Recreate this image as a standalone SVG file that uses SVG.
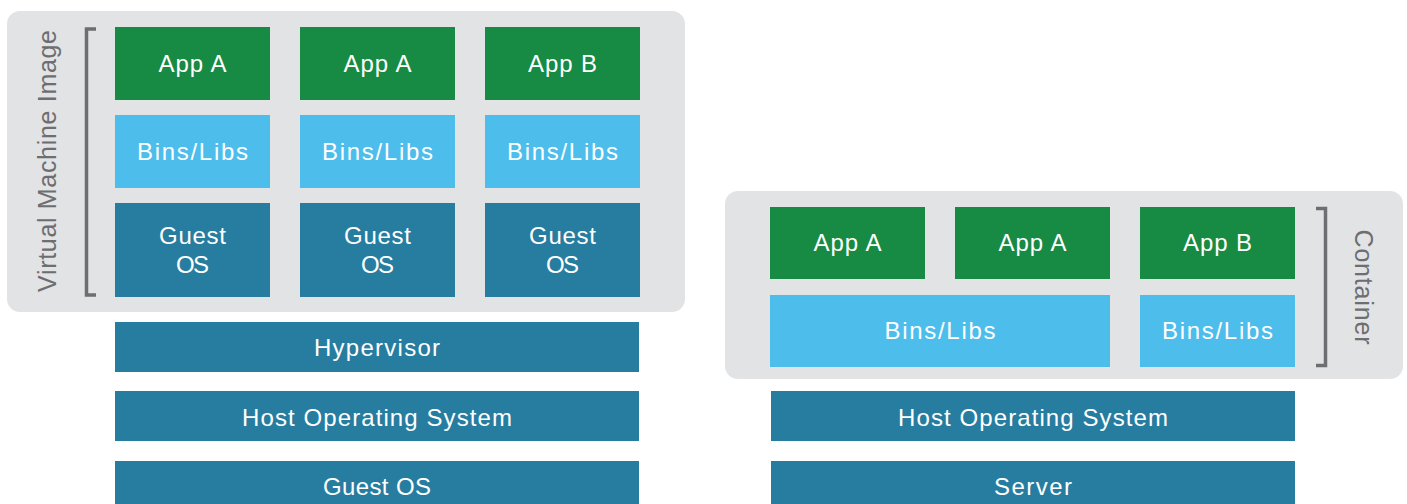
<svg xmlns="http://www.w3.org/2000/svg" width="1407" height="504" viewBox="0 0 1407 504">
<style>
.panel{fill:#e2e3e5}
.app{fill:#178a43}
.lib{fill:#4dbdec}
.os{fill:#277d9f}
.t{font-family:"Liberation Sans",Arial,sans-serif;font-size:24px;fill:#ffffff;text-anchor:middle}
.lbl{font-family:"Liberation Sans",Arial,sans-serif;font-size:25px;fill:#6d6e71;text-anchor:middle}
.br{fill:none;stroke:#6d6e71;stroke-width:3.5}
</style>
<rect width="1407" height="504" fill="#ffffff"/>
<g id="vm-panel">
<rect class="panel" x="7" y="11" width="678" height="301" rx="13"/>
<path class="br" d="M96 29 H86.5 V295 H96"/>
<text class="lbl" transform="translate(56 161) rotate(-90)" textLength="262" lengthAdjust="spacing">Virtual Machine Image</text>
</g>
<g id="vm-app1"><rect class="app" x="115" y="27" width="155" height="73"/><text class="t" x="192.5" y="72" textLength="68" lengthAdjust="spacing">App A</text></g>
<g id="vm-app2"><rect class="app" x="300" y="27" width="155" height="73"/><text class="t" x="377.5" y="72" textLength="68" lengthAdjust="spacing">App A</text></g>
<g id="vm-app3"><rect class="app" x="485" y="27" width="155" height="73"/><text class="t" x="562.5" y="72" textLength="69" lengthAdjust="spacing">App B</text></g>
<g id="vm-lib1"><rect class="lib" x="115" y="115" width="155" height="73"/><text class="t" x="192.5" y="160" textLength="111" lengthAdjust="spacing">Bins/Libs</text></g>
<g id="vm-lib2"><rect class="lib" x="300" y="115" width="155" height="73"/><text class="t" x="377.5" y="160" textLength="111" lengthAdjust="spacing">Bins/Libs</text></g>
<g id="vm-lib3"><rect class="lib" x="485" y="115" width="155" height="73"/><text class="t" x="562.5" y="160" textLength="111" lengthAdjust="spacing">Bins/Libs</text></g>
<g id="vm-os1"><rect class="os" x="115" y="203" width="155" height="94"/><text class="t" x="192.5" y="244" textLength="67" lengthAdjust="spacing">Guest</text><text class="t" x="192.5" y="273" textLength="33" lengthAdjust="spacing">OS</text></g>
<g id="vm-os2"><rect class="os" x="300" y="203" width="155" height="94"/><text class="t" x="377.5" y="244" textLength="67" lengthAdjust="spacing">Guest</text><text class="t" x="377.5" y="273" textLength="33" lengthAdjust="spacing">OS</text></g>
<g id="vm-os3"><rect class="os" x="485" y="203" width="155" height="94"/><text class="t" x="562.5" y="244" textLength="67" lengthAdjust="spacing">Guest</text><text class="t" x="562.5" y="273" textLength="33" lengthAdjust="spacing">OS</text></g>
<g id="hypervisor"><rect class="os" x="115" y="322" width="524" height="50"/><text class="t" x="377" y="356" textLength="126" lengthAdjust="spacing">Hypervisor</text></g>
<g id="vm-host"><rect class="os" x="115" y="391" width="524" height="50"/><text class="t" x="377" y="426" textLength="270" lengthAdjust="spacing">Host Operating System</text></g>
<g id="vm-guest"><rect class="os" x="115" y="461" width="524" height="50"/><text class="t" x="377" y="495" textLength="108" lengthAdjust="spacing">Guest OS</text></g>

<g id="ct-panel">
<rect class="panel" x="725" y="191" width="678" height="188" rx="13"/>
<path class="br" d="M1316 208.5 H1325.5 V365.5 H1316"/>
<text class="lbl" transform="translate(1355 287) rotate(90)" textLength="115" lengthAdjust="spacing">Container</text>
</g>
<g id="ct-app1"><rect class="app" x="770" y="207" width="155" height="72"/><text class="t" x="847.5" y="251" textLength="68" lengthAdjust="spacing">App A</text></g>
<g id="ct-app2"><rect class="app" x="955" y="207" width="155" height="72"/><text class="t" x="1032.5" y="251" textLength="68" lengthAdjust="spacing">App A</text></g>
<g id="ct-app3"><rect class="app" x="1140" y="207" width="155" height="72"/><text class="t" x="1217.5" y="251" textLength="69" lengthAdjust="spacing">App B</text></g>
<g id="ct-lib1"><rect class="lib" x="770" y="295" width="340" height="72"/><text class="t" x="940" y="339" textLength="111" lengthAdjust="spacing">Bins/Libs</text></g>
<g id="ct-lib2"><rect class="lib" x="1140" y="295" width="155" height="72"/><text class="t" x="1217.5" y="339" textLength="111" lengthAdjust="spacing">Bins/Libs</text></g>
<g id="ct-host"><rect class="os" x="771" y="391" width="524" height="50"/><text class="t" x="1033" y="426" textLength="270" lengthAdjust="spacing">Host Operating System</text></g>
<g id="ct-server"><rect class="os" x="771" y="461" width="524" height="50"/><text class="t" x="1033" y="495" textLength="78" lengthAdjust="spacing">Server</text></g>
<g id="connectors"></g>
</svg>
